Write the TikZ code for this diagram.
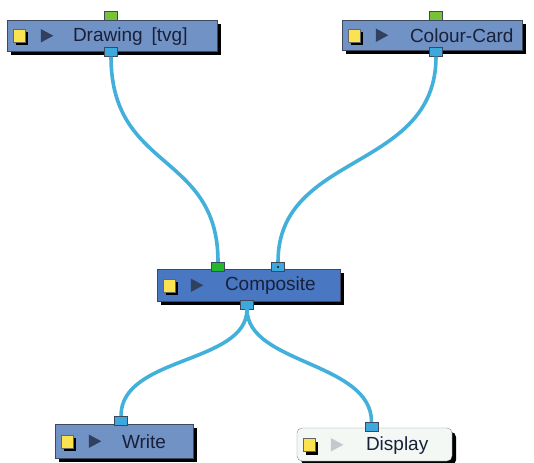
\documentclass[tikz,border=0pt]{standalone}
\usepackage{fontspec}
\setmainfont{Liberation Sans}
\usepackage{tikz}
\usetikzlibrary{positioning,shadows,calc}
\usepackage{xcolor}
\definecolor{nodeblue}{RGB}{113,146,196}
\definecolor{compblue}{RGB}{74,119,194}
\definecolor{nodeedge}{RGB}{62,72,92}
\definecolor{wireblue}{RGB}{66,176,218}
\definecolor{portblue}{RGB}{60,168,220}
\definecolor{portgreen}{RGB}{120,194,58}
\definecolor{compgreen}{RGB}{34,184,46}
\definecolor{labelink}{RGB}{24,32,58}
\definecolor{tridark}{RGB}{50,64,96}
\definecolor{trilight}{RGB}{196,200,204}
\definecolor{dispfill}{RGB}{244,248,244}
\definecolor{iconyellow}{RGB}{250,226,80}

\tikzset{
  nodebox/.style={draw=nodeedge,fill=nodeblue,minimum height=31pt,inner sep=0pt,
    drop shadow={shadow xshift=4pt,shadow yshift=-4pt,fill=black,opacity=1}},
  nodelabel/.style={inner sep=0pt,text=labelink,font=\fontsize{19}{22}\selectfont,yshift=-1pt},
  portbox/.style={draw=nodeedge,fill=portblue,minimum width=13pt,minimum height=9pt,inner sep=0pt},
  wire/.style={draw=wireblue,line width=3.6pt}
}

% yellow square and play triangle at the left of a node
\newcommand{\nodeicons}[2]{
  \fill[black] ($(#1.west)+(9,-3)$) rectangle ++(12,13);
  \filldraw[fill=iconyellow,draw=black!60,line width=0.4pt] ($(#1.west)+(6,-6)$) rectangle ++(12,13);
  \fill[#2] ($(#1.west)+(34,-6.5)$) -- ++(0,13.5) -- ++(12.5,-6.75) -- cycle;
}

\begin{document}
\begin{tikzpicture}[x=1pt,y=-1pt]
\useasboundingbox[fill=white] (0,0) rectangle (534,462);

% node boxes
\node[nodebox,minimum width=210pt] (drawing) at (112,35.5) {};
\node[nodebox,minimum width=180pt,minimum height=30pt] (colourcard) at (432,35) {};
\node[nodebox,fill=compblue,minimum width=183pt,minimum height=32pt] (composite) at (248.5,285) {};
\node[nodebox,minimum width=138pt,minimum height=34pt] (write) at (124,441) {};
\node[nodebox,fill=dispfill,draw=black!45,rounded corners=5pt,minimum width=155pt,minimum height=33pt] (display) at (374.5,444.5) {};

\nodeicons{drawing}{tridark}
\nodeicons{colourcard}{tridark}
\nodeicons{composite}{tridark}
\nodeicons{write}{tridark}
\nodeicons{display}{trilight}

\node[nodelabel,right=66pt of drawing.west] (drawing-label) {Drawing\hspace{9pt}[tvg]};
\node[nodelabel,right=68pt of colourcard.west] (colourcard-label) {Colour-Card};
\node[nodelabel,right=68pt of composite.west] (composite-label) {Composite};
\node[nodelabel,right=67pt of write.west] (write-label) {Write};
\node[nodelabel,right=69pt of display.west] (display-label) {Display};

% ports
\node[portbox,fill=portgreen] (drawing-in) at (111,16) {};
\node[portbox] (drawing-out) at (111,52) {};
\node[portbox,fill=portgreen] (colourcard-in) at (436,16) {};
\node[portbox] (colourcard-out) at (436,52) {};
\node[portbox,fill=compgreen] (composite-in) at (218,266.5) {};
\node[portbox] (composite-in2) at (278,266.5) {};
\fill[black!80] ($(composite-in2.center)+(-1,-1)$) rectangle ++(2,2);
\node[portbox] (composite-out) at (247,304.5) {};
\node[portbox] (write-in) at (121,420.5) {};
\node[portbox] (display-in) at (371.5,426.5) {};

% wires
\draw[wire] (drawing-out.south) .. controls +(0,115) and +(0,-110) .. (composite-in.north);
\draw[wire] (colourcard-out.south) .. controls +(0,115) and +(0,-110) .. (composite-in2.north);
\draw[wire] (composite-out.south) .. controls +(0,55) and +(0,-60) .. (write-in.north);
\draw[wire] (composite-out.south) .. controls +(0,55) and +(0,-60) .. (display-in.north);
\end{tikzpicture}
\end{document}
